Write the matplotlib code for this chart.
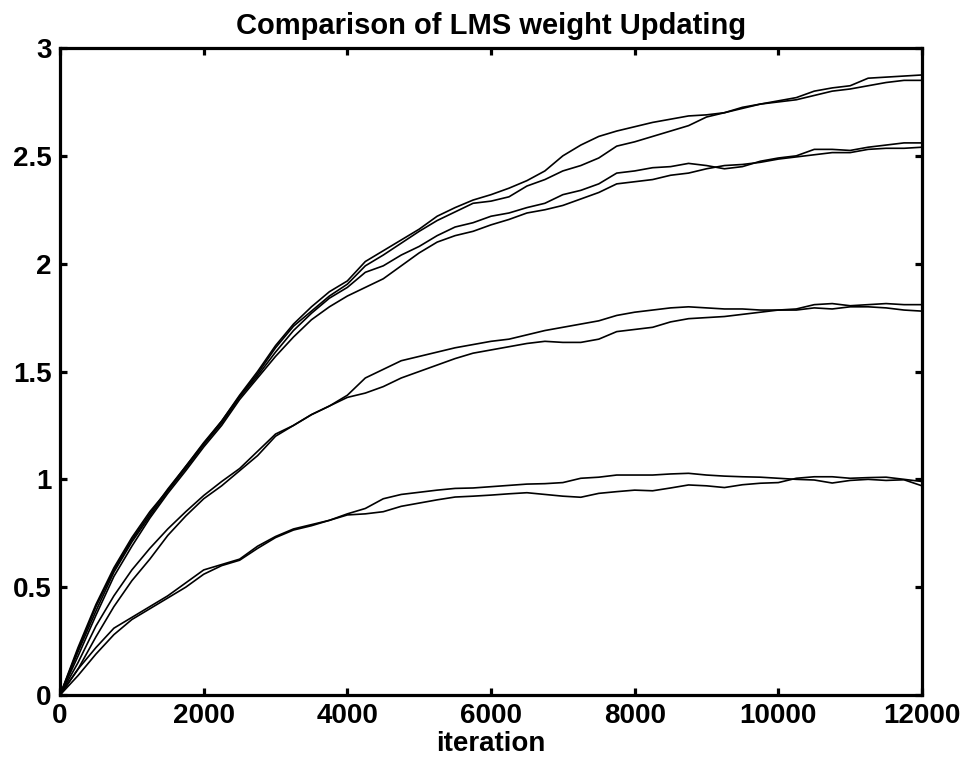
import numpy as np
import matplotlib
matplotlib.use("Agg")
import matplotlib.pyplot as plt

# iteration grid for the sampled weight trajectories
iterations = np.arange(0, 12001, 250)

# two runs per weight, pair A (largest weight) down to pair D (smallest)
w_a1 = [0, 0.22, 0.42, 0.59, 0.73, 0.85, 0.95, 1.06, 1.17, 1.27, 1.39, 1.50, 1.62,
        1.72, 1.80, 1.87, 1.92, 2.01, 2.06, 2.11, 2.16, 2.22, 2.26, 2.295, 2.32,
        2.35, 2.385, 2.43, 2.50, 2.55, 2.59, 2.615, 2.635, 2.655, 2.67, 2.685,
        2.69, 2.70, 2.72, 2.74, 2.755, 2.77, 2.80, 2.815, 2.825, 2.86, 2.865, 2.87, 2.875]
w_a2 = [0, 0.21, 0.41, 0.58, 0.72, 0.84, 0.955, 1.06, 1.165, 1.27, 1.385, 1.49, 1.61,
        1.71, 1.78, 1.85, 1.905, 1.99, 2.04, 2.095, 2.15, 2.20, 2.24, 2.28, 2.29,
        2.31, 2.36, 2.39, 2.43, 2.455, 2.49, 2.545, 2.565, 2.59, 2.615, 2.64,
        2.68, 2.70, 2.725, 2.74, 2.75, 2.76, 2.78, 2.80, 2.81, 2.825, 2.84, 2.85, 2.85]
w_b1 = [0, 0.20, 0.39, 0.57, 0.71, 0.83, 0.945, 1.05, 1.16, 1.26, 1.38, 1.48, 1.59,
        1.69, 1.77, 1.84, 1.89, 1.96, 1.99, 2.04, 2.08, 2.13, 2.17, 2.19, 2.22,
        2.235, 2.26, 2.28, 2.32, 2.34, 2.37, 2.42, 2.43, 2.445, 2.45, 2.465,
        2.455, 2.44, 2.45, 2.475, 2.49, 2.50, 2.53, 2.53, 2.525, 2.54, 2.55, 2.56, 2.56]
w_b2 = [0, 0.18, 0.37, 0.55, 0.69, 0.82, 0.935, 1.04, 1.15, 1.25, 1.37, 1.47, 1.57,
        1.66, 1.74, 1.80, 1.85, 1.89, 1.93, 1.99, 2.05, 2.10, 2.13, 2.15, 2.18,
        2.205, 2.235, 2.25, 2.27, 2.30, 2.33, 2.37, 2.38, 2.39, 2.41, 2.42,
        2.44, 2.455, 2.46, 2.47, 2.485, 2.495, 2.505, 2.515, 2.515, 2.53, 2.535, 2.535, 2.54]
w_c1 = [0, 0.15, 0.32, 0.46, 0.58, 0.68, 0.77, 0.85, 0.925, 0.99, 1.05, 1.13, 1.21,
        1.25, 1.30, 1.34, 1.39, 1.47, 1.51, 1.55, 1.57, 1.59, 1.61, 1.625, 1.64,
        1.65, 1.67, 1.69, 1.705, 1.72, 1.735, 1.76, 1.775, 1.785, 1.795, 1.80,
        1.795, 1.79, 1.79, 1.785, 1.785, 1.79, 1.81, 1.815, 1.805, 1.81, 1.815, 1.81, 1.81]
w_c2 = [0, 0.12, 0.27, 0.41, 0.53, 0.63, 0.74, 0.83, 0.91, 0.97, 1.04, 1.11, 1.20,
        1.25, 1.30, 1.34, 1.38, 1.40, 1.43, 1.47, 1.50, 1.53, 1.56, 1.585, 1.60,
        1.615, 1.63, 1.64, 1.635, 1.635, 1.65, 1.685, 1.695, 1.705, 1.73, 1.745,
        1.75, 1.755, 1.765, 1.775, 1.785, 1.785, 1.795, 1.79, 1.80, 1.80, 1.795, 1.785, 1.78]
w_d1 = [0, 0.12, 0.22, 0.31, 0.36, 0.41, 0.46, 0.52, 0.58, 0.605, 0.63, 0.69, 0.735,
        0.77, 0.79, 0.81, 0.84, 0.865, 0.91, 0.93, 0.94, 0.95, 0.958, 0.96, 0.966,
        0.972, 0.978, 0.98, 0.985, 1.005, 1.01, 1.02, 1.02, 1.02, 1.025, 1.028,
        1.02, 1.015, 1.012, 1.01, 1.005, 1.0, 0.997, 0.983, 0.995, 1.0, 0.995, 0.998, 0.97]
w_d2 = [0, 0.09, 0.19, 0.28, 0.35, 0.40, 0.45, 0.50, 0.56, 0.60, 0.625, 0.68, 0.73,
        0.765, 0.785, 0.81, 0.835, 0.84, 0.85, 0.875, 0.89, 0.905, 0.918, 0.922, 0.927,
        0.933, 0.938, 0.93, 0.922, 0.917, 0.935, 0.943, 0.95, 0.947, 0.96, 0.974,
        0.97, 0.962, 0.975, 0.982, 0.985, 1.005, 1.012, 1.012, 1.005, 1.008, 1.01, 1.0, 0.99]

runs = [w_a1, w_a2, w_b1, w_b2, w_c1, w_c2, w_d1, w_d2]

x_ticks = [0, 2000, 4000, 6000, 8000, 10000, 12000]
y_ticks = [0, 0.5, 1, 1.5, 2, 2.5, 3]
y_tick_labels = ["0", "0.5", "1", "1.5", "2", "2.5", "3"]

plt.rcParams["font.family"] = ["Liberation Sans", "DejaVu Sans"]
plt.rcParams["font.weight"] = "bold"

fig = plt.figure(figsize=(9.70, 7.62), dpi=100)
ax = fig.add_axes([0.0619, 0.0879, 0.8886, 0.8491])

for w in runs:
    ax.plot(iterations, w, color="black", linewidth=1.2)

ax.set_xlim(0, 12000)
ax.set_ylim(0, 3)
ax.set_xticks(x_ticks)
ax.set_xticklabels([str(t) for t in x_ticks])
ax.set_yticks(y_ticks)
ax.set_yticklabels(y_tick_labels)

for sp in ax.spines.values():
    sp.set_linewidth(2.3)
ax.tick_params(direction="in", length=5, width=2.3, top=True, right=True,
               labelsize=20, pad=6)
for lab in ax.get_xticklabels() + ax.get_yticklabels():
    lab.set_fontweight("bold")

ax.set_title("Comparison of LMS weight Updating", fontsize=21, fontweight="bold", pad=10)
ax.set_xlabel("iteration", fontsize=20, fontweight="bold", labelpad=1)

fig.savefig("out.png", dpi=100, facecolor="white")
